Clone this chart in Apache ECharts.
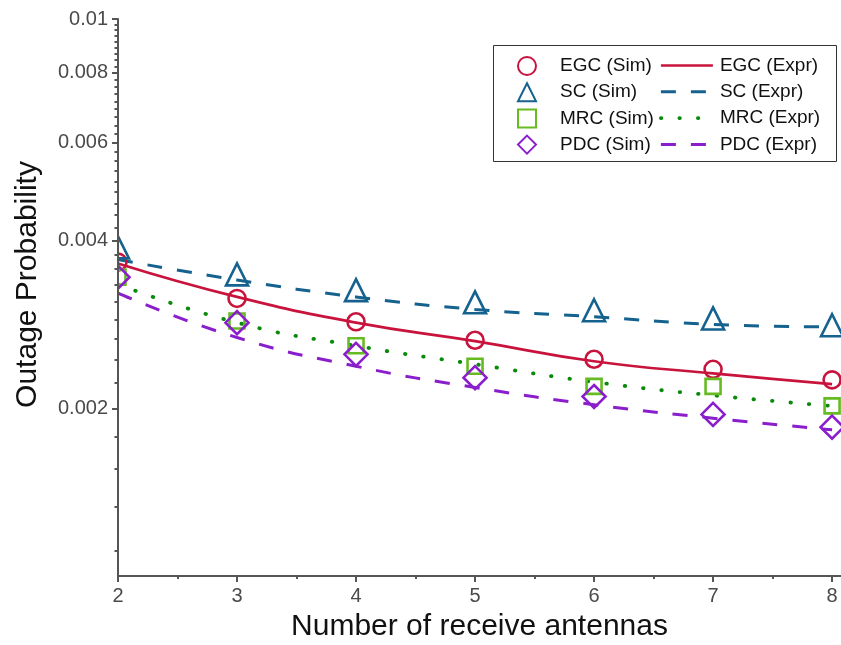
<!DOCTYPE html>
<html><head><meta charset="utf-8">
<script src="https://cdn.jsdelivr.net/npm/echarts@6/dist/echarts.min.js"></script>
<style>html,body{margin:0;padding:0;background:#fff}#c{width:841px;height:645px}</style>
</head><body><div id="c"></div>
<script>
// ---- data ----
const antennas = [2, 3, 4, 5, 6, 7, 8];
const egcSim  = [0.00366, 0.00315, 0.00286, 0.00265, 0.00245, 0.00235, 0.00225];
const egcExpr = [0.00364, 0.00317, 0.00285, 0.00264, 0.00243, 0.00231, 0.00221];
const scSim   = [0.00389, 0.00348, 0.00326, 0.00310, 0.00300, 0.00290, 0.00282];
const scExpr  = [0.00370, 0.00340, 0.00317, 0.00301, 0.00292, 0.00283, 0.00280];
const mrcSim  = [0.00344, 0.00287, 0.00259, 0.00238, 0.00219, 0.00219, 0.00202];
const mrcExpr = [0.00334, 0.00285, 0.00259, 0.00240, 0.00223, 0.00211, 0.00202];
const pdcSim  = [0.00344, 0.00285, 0.00250, 0.00227, 0.00210, 0.00195, 0.00185];
const pdcExpr = [0.00322, 0.00268, 0.00238, 0.00218, 0.00203, 0.00192, 0.00183];
const xTickLabels = [2, 3, 4, 5, 6, 7, 8];
const xMinorTicks = [2.5, 3.5, 4.5, 5.5, 6.5, 7.5];
const yTickLabels = [0.002, 0.004, 0.006, 0.008, 0.01];
const yMinorTicks = [];
for (let k = 5; k <= 44; k++) { if (k % 9 !== 0) yMinorTicks.push(k * 0.002 / 9); }

const C_EGC = '#C8143C', C_SC = '#15628F', C_MRC = '#66BB22', C_MRCL = '#0A8A0A', C_PDC = '#8A1ECC';
const FONT = 'Liberation Sans, Arial, sans-serif';
const pairs = arr => antennas.map((x, i) => [x, arr[i]]);

const chart = echarts.init(document.getElementById('c'), null, {renderer: 'canvas'});

const DASH_SC = [15, 15], DASH_PDC = [15, 15], DOT_MRC = [0.5, 18];
function capFor(type) { return (Array.isArray(type) && type[0] < 1) ? 'round' : 'butt'; }

function simSeries(name, data, symbol, size, color) {
  return {
    name, type: 'scatter', data: pairs(data), symbol, symbolSize: size, z: 4,
    xAxisIndex: 0, yAxisIndex: 0,
    itemStyle: {color: 'rgba(255,255,255,0)', borderColor: color, borderWidth: 2.6, opacity: 1},
    emphasis: {disabled: true}
  };
}
function exprSeries(name, data, color, type, width) {
  return {
    name, type: 'line', data: pairs(data), smooth: true, symbol: 'none', z: 3,
    xAxisIndex: 0, yAxisIndex: 0,
    itemStyle: {color},
    lineStyle: {color, width, type, cap: capFor(type)},
    emphasis: {disabled: true}
  };
}
function legLine(name, color, type, width) {
  return {name, itemStyle: {opacity: 0}, lineStyle: {color, width, type, cap: capFor(type), opacity: 1}};
}

const axisColor = '#555';
const option = {
  backgroundColor: '#fff',
  animation: false,
  grid: {left: 118, right: 0, top: 19, bottom: 69, outerBoundsMode: 'none', containLabel: false},
  xAxis: [{
    type: 'value', min: 2, max: 8.075, position: 'bottom', z: 10,
    name: 'Number of receive antennas', nameLocation: 'middle', nameGap: 36,
    nameTextStyle: {fontFamily: FONT, fontSize: 30, color: '#111'},
    axisLine: {onZero: false, lineStyle: {color: axisColor, width: 2}},
    axisTick: {show: true, length: 6, inside: false, customValues: xTickLabels, lineStyle: {color: axisColor, width: 2}},
    axisLabel: {customValues: xTickLabels, margin: 10, fontFamily: FONT, fontSize: 20, color: '#4a4a4a'},
    splitLine: {show: false}
  }, {
    type: 'value', min: 2, max: 8.075, position: 'bottom', z: 10,
    axisLine: {show: false},
    axisTick: {show: true, length: 3, customValues: xMinorTicks, lineStyle: {color: axisColor, width: 2}},
    axisLabel: {show: false},
    splitLine: {show: false}
  }],
  yAxis: [{
    type: 'log', logBase: 10, min: 0.001, max: 0.01, position: 'left', z: 10,
    name: 'Outage Probability', nameLocation: 'middle', nameGap: 75, nameRotate: 90,
    nameTextStyle: {fontFamily: FONT, fontSize: 30, color: '#111', padding: [0, 0, 0, 26]},
    axisLine: {onZero: false, lineStyle: {color: axisColor, width: 2}},
    axisTick: {show: true, length: 6, customValues: yTickLabels, lineStyle: {color: axisColor, width: 2}},
    axisLabel: {customValues: yTickLabels, margin: 10, fontFamily: FONT, fontSize: 20, color: '#4a4a4a',
      formatter: v => String(Number(v.toPrecision(3)))},
    splitLine: {show: false}, minorTick: {show: false}
  }, {
    type: 'log', logBase: 10, min: 0.001, max: 0.01, position: 'left', z: 10,
    axisLine: {show: false},
    axisTick: {show: true, length: 3.5, customValues: yMinorTicks, lineStyle: {color: axisColor, width: 2}},
    axisLabel: {show: false},
    splitLine: {show: false}
  }],
  legend: [{
    data: ['EGC (Sim)', 'SC (Sim)', 'MRC (Sim)', 'PDC (Sim)'],
    orient: 'vertical', left: 517, top: 56, padding: 0,
    itemWidth: 18, itemHeight: 18, itemGap: 6.2, symbolKeepAspect: true,
    textStyle: {fontFamily: FONT, fontSize: 19, color: '#111', lineHeight: 18, padding: [0, 0, 0, 19]},
    selectedMode: false
  }, {
    data: [
      legLine('EGC (Expr)', C_EGC, 'solid', 2.7),
      legLine('SC (Expr)', C_SC, DASH_SC, 3),
      legLine('MRC (Expr)', C_MRCL, DOT_MRC, 3.8),
      legLine('PDC (Expr)', C_PDC, DASH_PDC, 3)
    ],
    orient: 'vertical', left: 659, top: 56, padding: 0,
    itemWidth: 52, itemHeight: 18, itemGap: 7.3,
    itemStyle: {opacity: 0},
    textStyle: {fontFamily: FONT, fontSize: 19, color: '#111', lineHeight: 18, padding: [0, 0, 0, 2]},
    selectedMode: false
  }],
  graphic: [
    {type: 'rect', z: 5, shape: {x: 493.5, y: 45.5, width: 343, height: 116},
     style: {fill: 'rgba(0,0,0,0)', stroke: '#333', lineWidth: 1}},
    {type: 'rect', z: 6, shape: {x: 90, y: 220, width: 27, height: 80},
     style: {fill: '#fff'}}
  ],
  series: [
    exprSeries('EGC (Expr)', egcExpr, C_EGC, 'solid', 2.7),
    exprSeries('SC (Expr)', scExpr, C_SC, DASH_SC, 3),
    exprSeries('MRC (Expr)', mrcExpr, C_MRCL, DOT_MRC, 3.8),
    exprSeries('PDC (Expr)', pdcExpr, C_PDC, DASH_PDC, 3),
    simSeries('EGC (Sim)', egcSim, 'circle', 17, C_EGC),
    simSeries('SC (Sim)', scSim, 'triangle', 22, C_SC),
    simSeries('MRC (Sim)', mrcSim, 'rect', 15, C_MRC),
    simSeries('PDC (Sim)', pdcSim, 'diamond', 23, C_PDC)
  ]
};
chart.setOption(option);
</script>
</body></html>
